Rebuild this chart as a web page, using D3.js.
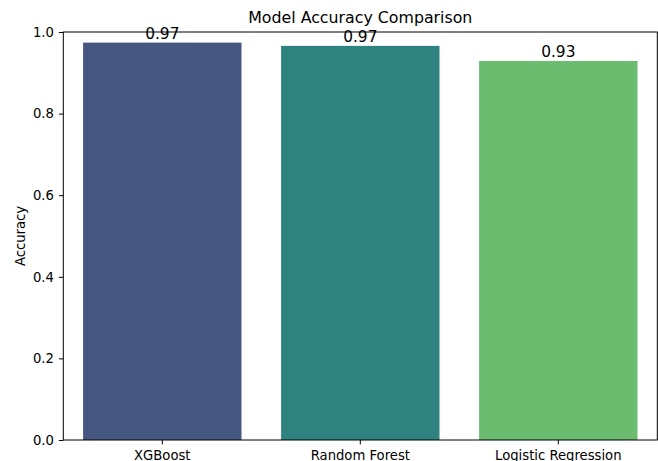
<!DOCTYPE html>
<html><head><meta charset="utf-8">
<script src="https://cdn.jsdelivr.net/npm/d3@7"></script>
<style>body{margin:0;background:#fff}svg{display:block}text{font-family:"DejaVu Sans",sans-serif;fill:#000}</style>
</head><body>
<svg id="c" width="658" height="461"></svg>
<script>
const categories = ["XGBoost", "Random Forest", "Logistic Regression"];
const accuracy = [0.974, 0.966, 0.929];
const colors = ["#455681", "#2f837f", "#6bbc6e"];
const yTicks = [0.0, 0.2, 0.4, 0.6, 0.8, 1.0];
const title = "Model Accuracy Comparison";
const yLabel = "Accuracy";

const svg = d3.select("#c");
const L = 63.3, R = 657.3, T = 32, B = 440;
const x = d3.scaleBand().domain(categories).range([L, R]).paddingInner(0.2).paddingOuter(0.1);
const y = d3.scaleLinear().domain([0, 1]).range([B, T]);

svg.selectAll("rect.bar").data(categories).enter().append("rect")
  .attr("class","bar")
  .attr("x", d => x(d)).attr("width", x.bandwidth())
  .attr("y", (d,i) => y(accuracy[i])).attr("height", (d,i) => B - y(accuracy[i]))
  .attr("fill", (d,i) => colors[i]);

// axes
const ya = svg.append("g").attr("transform", `translate(${L},0)`)
  .call(d3.axisLeft(y).tickValues(yTicks).tickFormat(d3.format(".1f")).tickSize(4.4).tickPadding(5));
const xa = svg.append("g").attr("transform", `translate(0,${B})`)
  .call(d3.axisBottom(x).tickSize(4.4).tickPadding(4));
[ya, xa].forEach(g => {
  g.select(".domain").remove();
  g.selectAll("text").style("font-size", "13.2px").attr("fill", "#000");
  g.selectAll("line").attr("stroke", "#000").attr("stroke-width", 1);
});
xa.selectAll("text").attr("dy", null).attr("y", 19.8);

// spines
svg.append("rect").attr("x", L).attr("y", T).attr("width", R - L).attr("height", B - T)
  .attr("fill", "none").attr("stroke", "#000").attr("stroke-width", 1);

// value labels
svg.selectAll("text.val").data(categories).enter().append("text")
  .attr("class","val")
  .attr("x", d => x(d) + x.bandwidth()/2)
  .attr("y", (d,i) => y(accuracy[i]) - 3.5)
  .attr("text-anchor","middle").style("font-size","15.4px")
  .text((d,i) => d3.format(".2f")(accuracy[i]));

svg.append("text").attr("x", (L+R)/2).attr("y", 23.3).attr("text-anchor","middle")
  .style("font-size","15.8px").text(title);
svg.append("text").attr("transform", `translate(24.5,${(T+B)/2}) rotate(-90)`)
  .attr("text-anchor","middle").style("font-size","13.2px").text(yLabel);
</script>
</body></html>
